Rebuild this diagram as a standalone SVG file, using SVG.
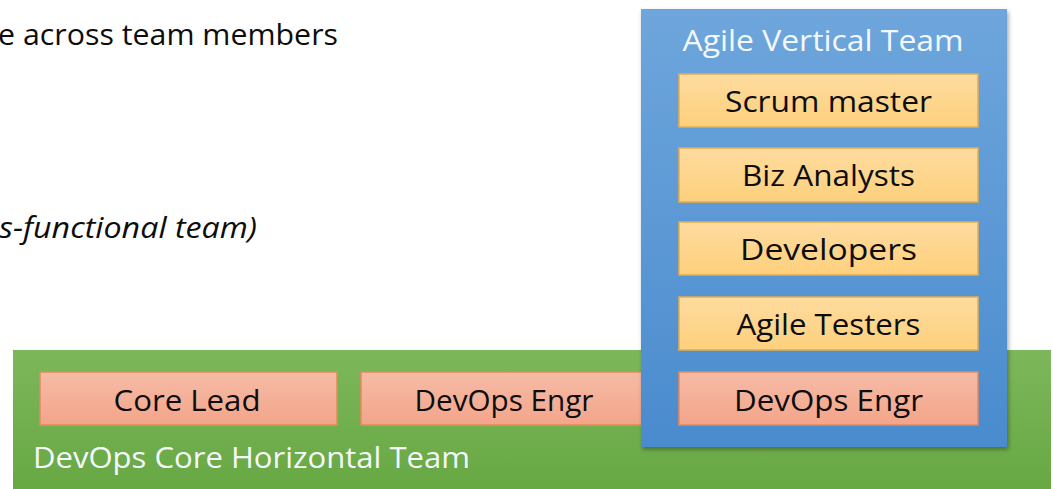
<svg xmlns="http://www.w3.org/2000/svg" width="1053" height="489" viewBox="0 0 1053 489">
<style>
text{font-family:"Open Sans","Liberation Sans",sans-serif;font-size:30px}
.dark{fill:#0d0d0d}
.white{fill:#f4f8fc}
.yel{fill:url(#gy);stroke:#e3ae52;stroke-width:1.5}
.sal{fill:url(#gs);stroke:#e38a5c;stroke-width:1.5}
.mid{text-anchor:middle}
</style>
<defs>
<linearGradient id="gb" x1="0" y1="0" x2="0" y2="1"><stop offset="0" stop-color="#6ea6dc"/><stop offset="1" stop-color="#4a8bce"/></linearGradient>
<linearGradient id="gg" x1="0" y1="0" x2="0" y2="1"><stop offset="0" stop-color="#7db75b"/><stop offset="1" stop-color="#67a843"/></linearGradient>
<linearGradient id="gy" x1="0" y1="0" x2="0" y2="1"><stop offset="0" stop-color="#fedb9f"/><stop offset="1" stop-color="#fdd07c"/></linearGradient>
<linearGradient id="gs" x1="0" y1="0" x2="0" y2="1"><stop offset="0" stop-color="#f6bba6"/><stop offset="1" stop-color="#f3a58a"/></linearGradient>
<filter id="sh" x="-10%" y="-10%" width="130%" height="130%"><feDropShadow dx="1.5" dy="2.5" stdDeviation="2" flood-color="#000" flood-opacity="0.35"/></filter>
</defs>
<text class="dark" x="-2" y="45" textLength="340" lengthAdjust="spacingAndGlyphs" font-size="31">e across team members</text>
<text class="dark" x="-1" y="238" textLength="258" lengthAdjust="spacingAndGlyphs" font-size="31" font-style="italic">s-functional team)</text>
<g id="horizontal-team">
<rect x="13" y="350" width="1038" height="140" fill="url(#gg)"/>
<text class="white" x="33" y="468" textLength="437" lengthAdjust="spacingAndGlyphs" font-size="29">DevOps Core Horizontal Team</text>
</g>
<g id="core-lead">
<rect class="sal" x="40" y="372" width="297" height="53"/>
<text class="dark mid" x="187" y="411" textLength="147" lengthAdjust="spacingAndGlyphs">Core Lead</text>
</g>
<g id="devops-engr-1">
<rect class="sal" x="361" y="372" width="296" height="53"/>
<text class="dark mid" x="504" y="411" textLength="179" lengthAdjust="spacingAndGlyphs">DevOps Engr</text>
</g>
<g id="vertical-team">
<rect x="641" y="9" width="366" height="438" fill="url(#gb)" filter="url(#sh)"/>
<text class="white mid" x="823" y="51" textLength="281" lengthAdjust="spacingAndGlyphs" font-size="31">Agile Vertical Team</text>
</g>
<g id="scrum-master">
<rect class="yel" x="679" y="74" width="299" height="53"/>
<text class="dark mid" x="828.5" y="112" textLength="207" lengthAdjust="spacingAndGlyphs">Scrum master</text>
</g>
<g id="biz-analysts">
<rect class="yel" x="679" y="148" width="299" height="54"/>
<text class="dark mid" x="828.5" y="186" textLength="173" lengthAdjust="spacingAndGlyphs">Biz Analysts</text>
</g>
<g id="developers">
<rect class="yel" x="679" y="222" width="299" height="53"/>
<text class="dark mid" x="828.5" y="260" textLength="177" lengthAdjust="spacingAndGlyphs">Developers</text>
</g>
<g id="agile-testers">
<rect class="yel" x="679" y="297" width="299" height="53"/>
<text class="dark mid" x="828.5" y="335" textLength="184" lengthAdjust="spacingAndGlyphs">Agile Testers</text>
</g>
<g id="devops-engr-2">
<rect class="sal" x="679" y="372" width="299" height="53"/>
<text class="dark mid" x="828.5" y="411" textLength="189" lengthAdjust="spacingAndGlyphs">DevOps Engr</text>
</g>
<g id="connectors"></g>
</svg>
